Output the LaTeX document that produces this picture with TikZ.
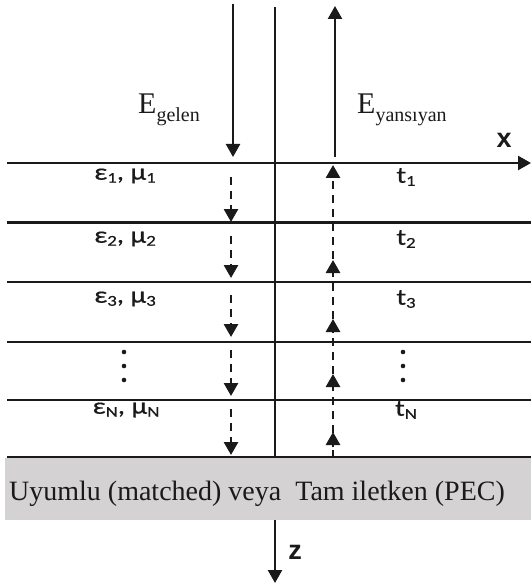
\documentclass[tikz,border=0pt]{standalone}
\usepackage{fontspec}
\setmainfont{Liberation Serif}
\newfontfamily\calib[FakeStretch=1.25,FakeBold=0.6]{Carlito}
\newfontfamily\arialf{Liberation Sans}
\usetikzlibrary{arrows.meta}
\definecolor{ink}{HTML}{1A1A1A}
\definecolor{boxgray}{HTML}{D4D2D2}
\tikzset{
  axisline/.style={draw=ink, line width=2.4pt},
  tip/.style={-{Triangle[width=14pt,length=13pt]}},
  solidarrow/.style={axisline, tip},
  dasharrow/.style={draw=ink, line width=2.7pt, dash pattern=on 8pt off 6pt, tip},
  layerlbl/.style={text=ink, inner sep=0pt},
  axislbl/.style={text=ink, inner sep=0pt},
  elbl/.style={text=ink, inner sep=0pt, anchor=base west},
}
\newcommand{\lsize}{\calib\fontsize{23}{23}\selectfont}
\newcommand{\lsub}[1]{\raisebox{-3pt}{\calib\fontsize{15}{15}\selectfont #1}}
\newcommand{\esub}[1]{\raisebox{-8pt}{\fontsize{20}{20}\selectfont #1}}
\newcommand{\axfont}{\arialf\bfseries\fontsize{27}{27}\selectfont}
\begin{document}
\begin{tikzpicture}[x=1pt,y=-1pt]
\useasboundingbox (0,0) rectangle (531,585);
% gray box
\fill[boxgray] (5,458) rectangle (531,520);
\node[inner sep=0pt, anchor=base, text=ink] (pec) at (257,500) {\fontsize{28}{28}\selectfont Uyumlu (matched) veya\ \ Tam iletken (PEC)};
% coordinates
\coordinate (vt) at (275,7);
\coordinate (vb) at (275,457);
\coordinate (xa0) at (7,163);
\coordinate (xa1) at (531,163);
\foreach \n/\y in {2/222.5,3/282,4/342,5/400,6/457}{
  \coordinate (L\n a) at (7,\y);
  \coordinate (L\n b) at (531,\y);
}
% axes and layer lines
\draw[axisline] (vt) -- (vb);
\draw[axisline, tip] (xa0) -- (xa1);
\foreach \n in {2,3,4,5,6}{ \draw[axisline] (L\n a) -- (L\n b); }
% z axis
\coordinate (z0) at (275,520);
\coordinate (z1) at (275,583);
\draw[solidarrow] (z0) -- (z1);
\node[axislbl] (zl) at (295,552) {\axfont z};
\node[axislbl] (xl) at (504,140) {\axfont x};
% incident / reflected solid arrows
\coordinate (in0) at (233,4);
\coordinate (in1) at (233,157);
\coordinate (re0) at (335,157);
\coordinate (re1) at (335,6);
\draw[solidarrow] (in0) -- (in1);
\draw[solidarrow] (re0) -- (re1);
\node[elbl] (eg) at (138,114) {\fontsize{30}{30}\selectfont E\esub{gelen}};
\node[elbl] (ey) at (357,114) {\fontsize{30}{30}\selectfont E\esub{yansıyan}};
% dashed down arrows
\foreach \i/\a/\b in {1/177/222,2/236/278,3/295/337,4/350/396,5/409/455}{
  \coordinate (d\i s) at (231,\a);
  \coordinate (d\i e) at (231,\b);
  \draw[dasharrow] (d\i s) -- (d\i e);
}
% dashed up arrows
\foreach \i/\a/\b in {1/273/165,2/333/260,3/388/319,4/447/374,5/458/432}{
  \coordinate (u\i s) at (333,\a);
  \coordinate (u\i e) at (333,\b);
  \draw[dasharrow] (u\i s) -- (u\i e);
}
% layer labels
\node[layerlbl] (m1) at (125,176) {\lsize ε\lsub{1}, μ\lsub{1}};
\node[layerlbl] (m2) at (125,239) {\lsize ε\lsub{2}, μ\lsub{2}};
\node[layerlbl] (m3) at (125,299) {\lsize ε\lsub{3}, μ\lsub{3}};
\node[layerlbl] (mN) at (126,410) {\lsize ε\lsub{N}, μ\lsub{N}};
\node[layerlbl] (t1) at (406,177) {\lsize t\lsub{1}};
\node[layerlbl] (t2) at (406,239) {\lsize t\lsub{2}};
\node[layerlbl] (t3) at (406,299) {\lsize t\lsub{3}};
\node[layerlbl] (tN) at (406,410) {\lsize t\lsub{N}};
% vertical dots
\foreach \y in {352,366,380}{
  \fill[ink] (124,\y) circle (2.3pt);
  \fill[ink] (403,\y) circle (2.3pt);
}
\end{tikzpicture}
\end{document}
